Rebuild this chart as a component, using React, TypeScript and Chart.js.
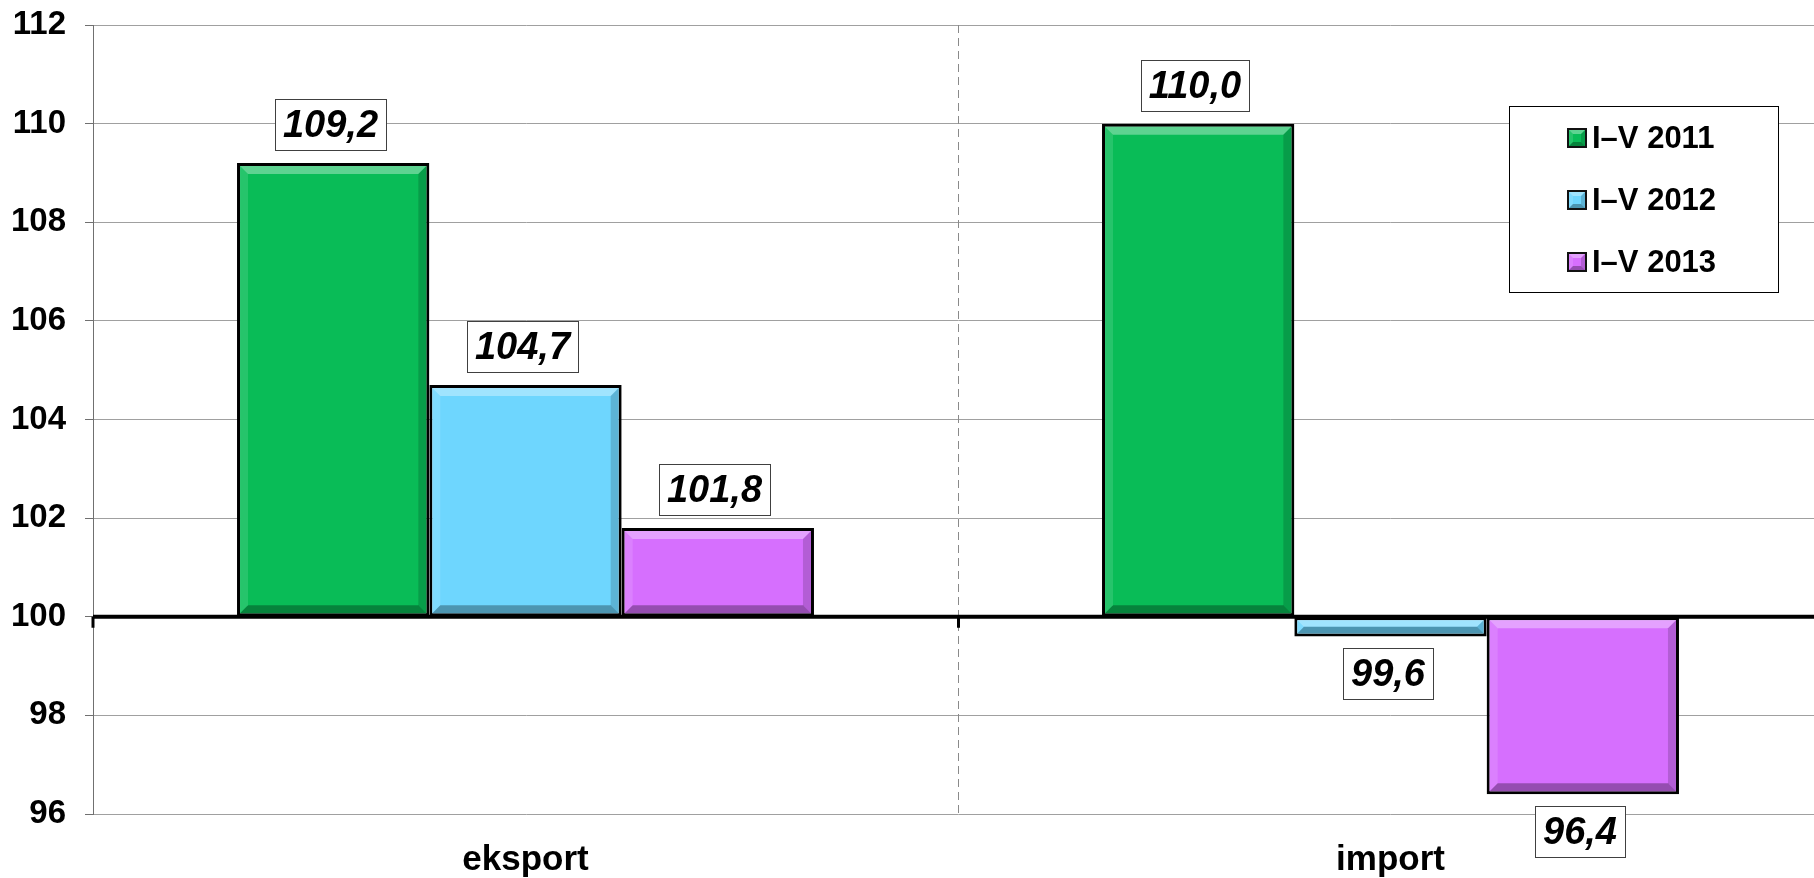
import React, { useEffect, useRef } from "react";
import { Chart, registerables } from "chart.js";

Chart.register(...registerables);

// ---- data ----
const categories = ["eksport", "import"];
const seriesLabels = ["I–V 2011", "I–V 2012", "I–V 2013"];
const values2011 = [109.2, 110.0];
const values2012 = [104.7, 99.6];
const values2013 = [101.8, 96.4];
const yTickValues = [96, 98, 100, 102, 104, 106, 108, 110, 112];
const baseValue = 100;

const seriesColors = ["#09BC57", "#6ED6FE", "#D66FFE"];
const FONT = "'Liberation Sans', Arial, Helvetica, sans-serif";

const fmt = (v: number) => v.toFixed(1).replace(".", ",");

function poly(ctx: CanvasRenderingContext2D, pts: number[][], fill: string) {
  ctx.beginPath();
  ctx.moveTo(pts[0][0], pts[0][1]);
  for (let i = 1; i < pts.length; i++) ctx.lineTo(pts[i][0], pts[i][1]);
  ctx.closePath();
  ctx.fillStyle = fill;
  ctx.fill();
}

function drawBevel(ctx: CanvasRenderingContext2D, l: number, t: number, r: number, b: number, size: number) {
  const bw = Math.max(0, Math.min(size, (b - t) / 2, (r - l) / 2));
  if (bw <= 0) return;
  poly(ctx, [[l, t], [r, t], [r - bw, t + bw], [l + bw, t + bw]], "rgba(255,255,255,0.35)");
  poly(ctx, [[l, t], [l + bw, t + bw], [l + bw, b - bw], [l, b]], "rgba(255,255,255,0.12)");
  poly(ctx, [[r, t], [r - bw, t + bw], [r - bw, b - bw], [r, b]], "rgba(0,0,0,0.16)");
  poly(ctx, [[l, b], [l + bw, b - bw], [r - bw, b - bw], [r, b]], "rgba(0,0,0,0.3)");
}

const decorPlugin = {
  id: "decor",
  beforeDatasetsDraw(chart: any) {
    const { ctx, chartArea, scales } = chart;
    const xs = scales.x;
    ctx.save();
    ctx.strokeStyle = "#8a8a8a";
    ctx.lineWidth = 1;
    ctx.setLineDash([8, 5]);
    for (let i = 0; i < categories.length - 1; i++) {
      const px = Math.round((xs.getPixelForValue(i) + xs.getPixelForValue(i + 1)) / 2) + 0.5;
      ctx.beginPath();
      ctx.moveTo(px, chartArea.top);
      ctx.lineTo(px, chartArea.bottom);
      ctx.stroke();
    }
    ctx.restore();
  },
  afterDatasetsDraw(chart: any) {
    const { ctx, chartArea, scales } = chart;
    const xs = scales.x;
    const ys = scales.y;
    ctx.save();
    // bevels
    chart.data.datasets.forEach((ds: any, di: number) => {
      const meta = chart.getDatasetMeta(di);
      meta.data.forEach((bar: any) => {
        const p = bar.getProps(["x", "y", "base", "width"], true);
        const inset = 3;
        const l = p.x - p.width / 2 + inset;
        const r = p.x + p.width / 2 - inset;
        const t = Math.min(p.y, p.base) + inset;
        const b = Math.max(p.y, p.base) - inset;
        drawBevel(ctx, l, t, r, b, 8);
      });
    });
    // baseline at 100
    const y100 = ys.getPixelForValue(baseValue);
    ctx.strokeStyle = "#000";
    ctx.lineWidth = 4;
    ctx.beginPath();
    ctx.moveTo(chartArea.left, y100);
    ctx.lineTo(chartArea.right, y100);
    ctx.stroke();
    // category boundary ticks
    ctx.lineWidth = 3;
    const bounds = [chartArea.left];
    for (let i = 0; i < categories.length - 1; i++) {
      bounds.push(Math.round((xs.getPixelForValue(i) + xs.getPixelForValue(i + 1)) / 2) + 0.5);
    }
    bounds.forEach((bx) => {
      ctx.beginPath();
      ctx.moveTo(bx, y100);
      ctx.lineTo(bx, y100 + 11);
      ctx.stroke();
    });
    // data labels
    ctx.font = `italic bold 38px ${FONT}`;
    ctx.textAlign = "center";
    ctx.textBaseline = "middle";
    chart.data.datasets.forEach((ds: any, di: number) => {
      const meta = chart.getDatasetMeta(di);
      meta.data.forEach((bar: any, i: number) => {
        const v = ds.data[i];
        const p = bar.getProps(["x", "y", "base"], true);
        const txt = fmt(v);
        const tw = ctx.measureText(txt).width;
        const bw = Math.round(tw + 16);
        const bh = 51;
        let top: number;
        if (v >= baseValue) top = p.y - 13 - bh;
        else top = p.y + 12;
        const left = Math.round(p.x - 3 - bw / 2);
        ctx.fillStyle = "#fff";
        ctx.fillRect(left, Math.round(top), bw, bh);
        ctx.strokeStyle = "#404040";
        ctx.lineWidth = 1;
        ctx.strokeRect(left + 0.5, Math.round(top) + 0.5, bw, bh);
        ctx.fillStyle = "#000";
        ctx.fillText(txt, left + bw / 2, Math.round(top) + bh / 2 + 2);
      });
    });
    ctx.restore();
  },
  afterDraw(chart: any) {
    const { ctx } = chart;
    ctx.save();
    const bx = 1509, by = 106, bw = 269, bh = 186;
    ctx.fillStyle = "#fff";
    ctx.fillRect(bx, by, bw, bh);
    ctx.strokeStyle = "#000";
    ctx.lineWidth = 1;
    ctx.strokeRect(bx + 0.5, by + 0.5, bw, bh);
    const rows = [138, 200, 262];
    ctx.font = `bold 31px ${FONT}`;
    ctx.textAlign = "left";
    ctx.textBaseline = "middle";
    chart.data.datasets.forEach((ds: any, di: number) => {
      const cy = rows[di];
      const sq = 18;
      const sx = 1568, sy = cy - sq / 2;
      ctx.fillStyle = ds.backgroundColor;
      ctx.fillRect(sx, sy, sq, sq);
      drawBevel(ctx, sx, sy, sx + sq, sy + sq, 5);
      ctx.strokeStyle = "#111";
      ctx.lineWidth = 2;
      ctx.strokeRect(sx, sy, sq, sq);
      ctx.fillStyle = "#000";
      ctx.fillText(ds.label, 1592, cy + 1);
    });
    ctx.restore();
  },
};

export default function App() {
  const ref = useRef<HTMLCanvasElement | null>(null);

  useEffect(() => {
    if (!ref.current) return;
    const seriesValues = [values2011, values2012, values2013];
    const chart = new Chart(ref.current, {
      type: "bar",
      data: {
        labels: categories,
        datasets: seriesLabels.map((label, i) => ({
          label,
          data: seriesValues[i],
          base: baseValue,
          backgroundColor: seriesColors[i],
          borderColor: "#000",
          borderWidth: 3,
          borderSkipped: false,
          barPercentage: 1,
          categoryPercentage: 0.667,
        })),
      } as any,
      options: {
        animation: false,
        responsive: true,
        maintainAspectRatio: false,
        layout: { padding: { top: 25, right: 7, left: 0, bottom: 0 } },
        plugins: {
          legend: { display: false },
          tooltip: { enabled: false },
        },
        scales: {
          x: {
            grid: { display: false },
            border: { display: false },
            ticks: {
              color: "#000",
              font: { family: FONT, size: 35, weight: "bold" },
              padding: 17,
            },
            afterFit: (scale: any) => {
              scale.height = 64;
              scale.paddingLeft = 0;
              scale.paddingRight = 0;
            },
          },
          y: {
            min: 96,
            max: 112,
            afterBuildTicks: (scale: any) => {
              scale.ticks = yTickValues.map((v) => ({ value: v }));
            },
            afterFit: (scale: any) => {
              scale.width = 93;
              scale.paddingTop = 0;
              scale.paddingBottom = 0;
            },
            grid: {
              color: (c: any) => (c.tick && c.tick.value === baseValue ? "rgba(0,0,0,0)" : "#a0a0a0"),
              tickColor: "#707070",
              tickLength: 8,
              lineWidth: 1,
            },
            border: { display: true, color: "#707070", width: 1 },
            ticks: {
              color: "#000",
              font: { family: FONT, size: 33, weight: "bold" },
              padding: 19,
              callback: (v: any) => String(v),
            },
          },
        },
      } as any,
      plugins: [decorPlugin],
    });
    return () => chart.destroy();
  }, []);

  return (
    <div
      style={{
        position: "fixed",
        left: 0,
        top: 0,
        width: 1814,
        height: 878,
        overflow: "hidden",
        background: "#fff",
      }}
    >
      <div style={{ width: 1830, height: 878, position: "relative" }}>
        <canvas ref={ref} />
      </div>
    </div>
  );
}
